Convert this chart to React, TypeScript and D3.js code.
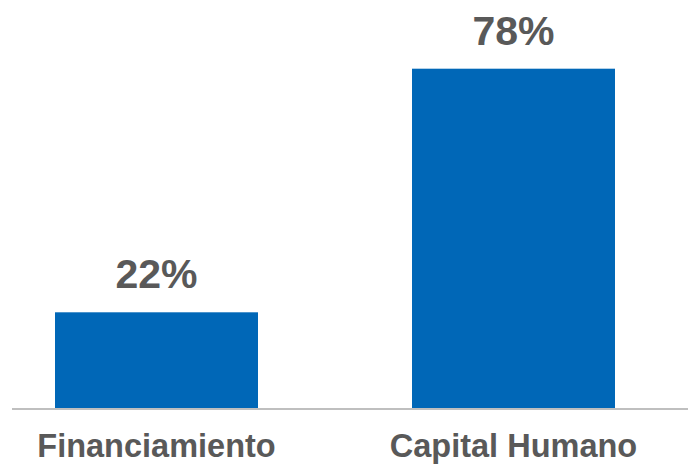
import React from "react";
import * as d3 from "d3";

const categories: string[] = ["Financiamiento", "Capital Humano"];
const values: number[] = [22, 78];
const valueLabels: string[] = ["22%", "78%"];

const W = 690;
const H = 469;

export default function App() {
  const x = d3.scaleBand<string>().domain(categories).range([55, 615]).paddingInner(0.4314).paddingOuter(0);
  const y = d3.scaleLinear().domain([0, 80]).range([408, 60]);
  const font = "'Liberation Sans', Arial, Helvetica, sans-serif";
  return (
    <div style={{ position: "absolute", left: 0, top: 0 }}>
      <svg width={W} height={H} style={{ display: "block", background: "#ffffff" }}>
        {categories.map((c, i) => (
          <g key={c}>
            <rect
              x={x(c)}
              y={y(values[i])}
              width={x.bandwidth()}
              height={y(0) - y(values[i])}
              fill="#0067B7"
            />
            <text
              x={(x(c) as number) + x.bandwidth() / 2}
              y={y(values[i]) - 24}
              textAnchor="middle"
              fontFamily={font}
              fontWeight="bold"
              fontSize={41}
              fill="#595959"
            >
              {valueLabels[i]}
            </text>
            <text
              x={(x(c) as number) + x.bandwidth() / 2}
              y={457}
              textAnchor="middle"
              fontFamily={font}
              fontWeight="bold"
              fontSize={32.5}
              fill="#595959"
            >
              {c}
            </text>
          </g>
        ))}
        <line x1={12} x2={688} y1={y(0) + 1} y2={y(0) + 1} stroke="#bfbfbf" strokeWidth={2} />
      </svg>
    </div>
  );
}
